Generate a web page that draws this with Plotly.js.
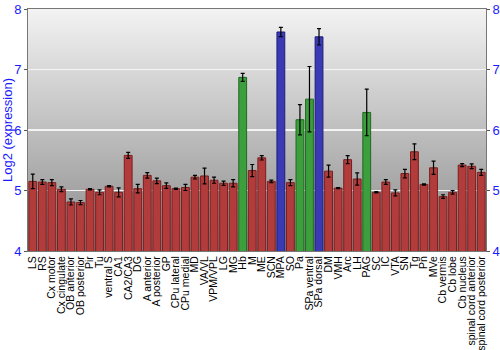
<!DOCTYPE html>
<html><head><meta charset="utf-8">
<script src="https://cdn.plot.ly/plotly-3.0.1.min.js"></script>
<style>html,body{margin:0;padding:0;background:#fff}#c{width:500px;height:350px}</style>
</head><body><div id="c"></div>
<script>
const regions = ["LS","RS","Cx motor","Cx cingulate","OB anterior","OB posterior","Pir","Tu","ventral S","CA1","CA2/CA3","DG","A anterior","A posterior","GP","CPu lateral","CPu medial","MD","VA/VL","VPM/VPL","LG","MG","Hb","M","ME","SCN","MPA","SO","Pa","SPa ventral","SPa dorsal","DM","VMH","Arc","LH","PAG","SC","IC","VTA","SN","Tg","Pn","MVe","Cb vermis","Cb lobe","Cb nucleus","spinal cord anterior","spinal cord posterior"];
const values = [5.15,5.14,5.13,5.02,4.81,4.80,5.02,4.97,5.07,4.97,5.58,5.03,5.25,5.16,5.08,5.03,5.05,5.22,5.24,5.17,5.12,5.12,6.87,5.33,5.54,5.15,7.62,5.13,6.17,6.51,7.54,5.32,5.04,5.51,5.19,6.29,4.97,5.14,4.96,5.28,5.64,5.10,5.375,4.90,4.97,5.42,5.40,5.30];
const errors = [0.12,0.04,0.05,0.04,0.05,0.035,0.01,0.04,0.01,0.075,0.05,0.07,0.045,0.045,0.045,0.01,0.05,0.03,0.13,0.05,0.035,0.06,0.066,0.1,0.036,0.02,0.075,0.05,0.25,0.54,0.135,0.1,0.01,0.065,0.1,0.385,0.01,0.04,0.05,0.07,0.13,0.01,0.11,0.03,0.03,0.025,0.04,0.05];
const groups = ["r","r","r","r","r","r","r","r","r","r","r","r","r","r","r","r","r","r","r","r","r","r","g","r","r","r","b","r","g","g","b","r","r","r","r","g","r","r","r","r","r","r","r","r","r","r","r","r"];

const fill = {r:"#b23c3c", g:"#3c9e3c", b:"#3a3ab4"};
const edge = {r:"#7a1e1e", g:"#1f6a1f", b:"#1e1e7a"};

const bg = 'data:image/svg+xml;utf8,' + encodeURIComponent(
 '<svg xmlns="http://www.w3.org/2000/svg" width="100" height="100" preserveAspectRatio="none"><defs><linearGradient id="g" x1="0" y1="0" x2="0" y2="1"><stop offset="0" stop-color="#f3f3f3"/><stop offset="1" stop-color="#8a8a8a"/></linearGradient></defs><rect width="100" height="100" fill="url(#g)"/></svg>');

const font = "Liberation Sans, Arial, sans-serif";
const traces = [{
  type:"bar", x:regions, y:values,
  marker:{color:groups.map(g=>fill[g]), line:{color:groups.map(g=>edge[g]), width:1}},
  error_y:{type:"data", array:errors, visible:true, color:"#000", thickness:1.2, width:2},
  width:0.82, showlegend:false, hoverinfo:"x+y"
},{
  type:"scatter", x:regions, y:values, yaxis:"y2", mode:"markers", marker:{opacity:0}, showlegend:false, hoverinfo:"skip"
}];

const layout = {
  width:500, height:350,
  margin:{l:28, r:14, t:9, b:99, pad:0},
  paper_bgcolor:"#fff", plot_bgcolor:"rgba(0,0,0,0)",
  font:{family:font, size:12, color:"#000"},
  images:[{source:bg, xref:"paper", yref:"paper", x:0, y:1, sizex:1, sizey:1, sizing:"stretch", layer:"below"}],
  bargap:0.14,
  xaxis:{type:"category", tickmode:"array", tickvals:regions, ticktext:regions, tickangle:-90,
    tickfont:{family:font, size:10.5, color:"#000"},
    showline:true, linecolor:"#777", mirror:true, ticks:"", 
    showgrid:false, automargin:false, range:[-0.5, regions.length-0.5]},
  yaxis:{range:[4,8], dtick:1, tickfont:{family:font, size:13, color:"#1a1aff"},
    showline:true, linecolor:"#777", ticks:"outside", ticklen:3, tickcolor:"#555",
    gridcolor:"#f4f4f4", gridwidth:1.5, zeroline:false, automargin:false,
    title:{text:"Log2 (expression)", font:{family:font, size:13, color:"#1a1aff"}, standoff:4}},
  yaxis2:{range:[4,8], dtick:1, overlaying:"y", side:"right", tickfont:{family:font, size:13, color:"#1a1aff"},
    showline:true, linecolor:"#777", ticks:"outside", ticklen:3, tickcolor:"#555", showgrid:false, zeroline:false, automargin:false}
};
Plotly.newPlot("c", traces, layout, {displayModeBar:false, staticPlot:true});
</script></body></html>
